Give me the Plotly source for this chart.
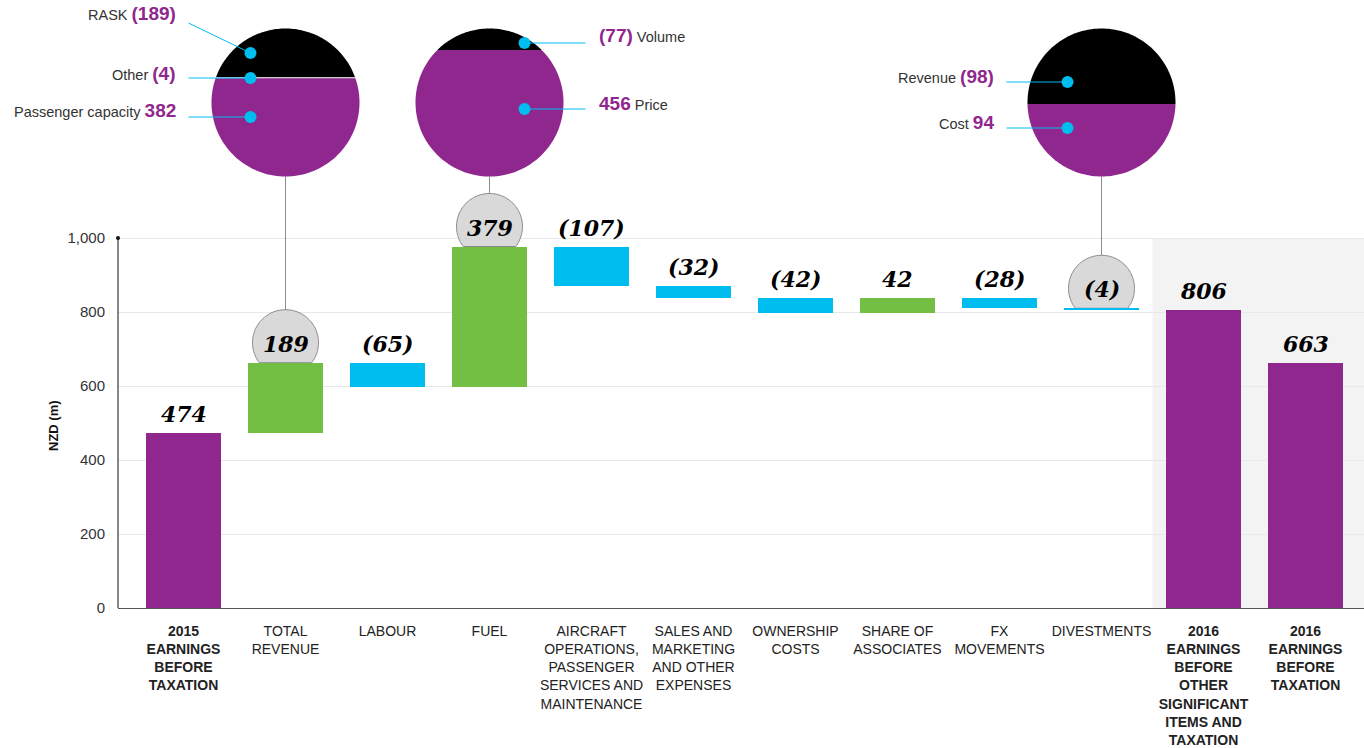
import math
import plotly.graph_objects as go

# ---------------- data ----------------
category_lines = [
    ["2015", "EARNINGS", "BEFORE", "TAXATION"],
    ["TOTAL", "REVENUE"],
    ["LABOUR"],
    ["FUEL"],
    ["AIRCRAFT", "OPERATIONS,", "PASSENGER", "SERVICES AND", "MAINTENANCE"],
    ["SALES AND", "MARKETING", "AND OTHER", "EXPENSES"],
    ["OWNERSHIP", "COSTS"],
    ["SHARE OF", "ASSOCIATES"],
    ["FX", "MOVEMENTS"],
    ["DIVESTMENTS"],
    ["2016", "EARNINGS", "BEFORE", "OTHER", "SIGNIFICANT", "ITEMS AND", "TAXATION"],
    ["2016", "EARNINGS", "BEFORE", "TAXATION"],
]
amounts = [474, 189, -65, 379, -107, -32, -42, 42, -28, -4, 806, 663]
kinds = ["total", "delta", "delta", "delta", "delta", "delta",
         "delta", "delta", "delta", "delta", "total", "total"]

y_ticks = [0, 200, 400, 600, 800, 1000]

# breakdowns shown as split discs above three of the movements
revenue_parts = ["RASK", "Other", "Passenger capacity"]
revenue_values = [-189, -4, 382]
fuel_parts = ["Volume", "Price"]
fuel_values = [-77, 456]
divest_parts = ["Revenue", "Cost"]
divest_values = [-98, 94]

# ---------------- styling / layout ----------------
W, H = 1364, 748
AX_LEFT_PX = 118
AX_BOTTOM_PX = 608
PX_PER_UNIT = 0.37
SLOT_PX = 102
FIRST_CENTER_PX = 183.5
BAR_WIDTH = 0.735

PURPLE = "#90278e"
GREEN = "#72bf44"
CYAN = "#00bdf0"
BLACK = "#000000"
GRID = "#e8e8e8"
SHADE = "#f3f3f3"
TEXT = "#333333"

SANS = "Liberation Sans"
SERIF = "DejaVu Serif"

PIE_R = 74
PIE_CY_PX = 102.5
BADGE_R = 33
BADGE_RISE = 20

y_max = AX_BOTTOM_PX / PX_PER_UNIT
x_lo = (AX_LEFT_PX - FIRST_CENTER_PX) / SLOT_PX
x_hi = (W - FIRST_CENTER_PX) / SLOT_PX


def units(px):
    return px / PX_PER_UNIT


def fmt(v):
    return f"({abs(v)})" if v < 0 else f"{v}"


def tick_label(lines, bold):
    if bold:
        return "<br>".join(f"<b>{s}</b>" for s in lines)
    return "<br>".join(lines)


def band_path(r, y_hi, y_lo, cy=0.0, n=48):
    """Closed polygon of the part of a circle (centre (0, cy)) lying between
    two horizontal lines, in pixel offsets with y pointing up."""
    a_lo = math.asin(max(-1.0, min(1.0, (y_lo - cy) / r)))
    a_hi = math.asin(max(-1.0, min(1.0, (y_hi - cy) / r)))
    pts = []
    for k in range(n + 1):
        a = a_lo + (a_hi - a_lo) * k / n
        pts.append((r * math.cos(a), cy + r * math.sin(a)))
    for k in range(n + 1):
        a = (math.pi - a_hi) + ((math.pi - a_lo) - (math.pi - a_hi)) * k / n
        pts.append((r * math.cos(a), cy + r * math.sin(a)))
    return "M " + " L ".join(f"{x:.2f},{y:.2f}" for x, y in pts) + " Z"


# ---------------- waterfall geometry ----------------
xs = list(range(len(amounts)))
bases, heights, tops, colors = [], [], [], []
running = 0
for v, k in zip(amounts, kinds):
    if k == "total":
        lo, hi = 0, v
        running = v
        col = PURPLE
    else:
        start = running
        running += v
        lo, hi = min(start, running), max(start, running)
        col = GREEN if v > 0 else CYAN
    bases.append(lo)
    heights.append(hi - lo)
    tops.append(hi)
    colors.append(col)

fig = go.Figure()
fig.add_trace(go.Bar(
    x=xs, y=heights, base=bases, width=BAR_WIDTH,
    marker=dict(color=colors, line=dict(width=0)),
    hoverinfo="skip",
))

shapes = []
annotations = []

# shaded panel behind the 2016 results
first_result = next(i for i in range(1, len(kinds)) if kinds[i] == "total")
shapes.append(dict(type="rect", xref="x", yref="y", x0=first_result - 0.5, x1=x_hi,
                   y0=0, y1=y_ticks[-1], fillcolor=SHADE, line=dict(width=0), layer="below"))

# vertical value axis line with end dot
ax_x = AX_LEFT_PX / W
shapes.append(dict(type="line", xref="paper", yref="y", x0=ax_x, x1=ax_x,
                   y0=0, y1=y_ticks[-1], line=dict(color="#111111", width=1)))
shapes.append(dict(type="circle", xref="paper", yref="y", xsizemode="pixel", ysizemode="pixel",
                   xanchor=ax_x, yanchor=y_ticks[-1], x0=-2, x1=2, y0=-2, y1=2,
                   fillcolor="#111111", line=dict(width=0)))

# value labels above each bar
for i, v in enumerate(amounts):
    annotations.append(dict(
        x=i, y=tops[i], xref="x", yref="y", text=fmt(v), showarrow=False,
        yanchor="bottom", xanchor="center", yshift=4,
        font=dict(family=SERIF, size=22, color="#000000", weight=700, style="italic"),
    ))

# split discs
pies = [
    dict(cat=1, parts=revenue_parts, values=revenue_values,
         colors=[BLACK, "#d4d4d4", PURPLE], side="left",
         dots=[(-35, 49.5), (-35, 24.5), (-35, -14.5)],
         lead=[(-97, 79.5), (-97, 24.5), (-97, -14.5)],
         label_dy=[89.5, 29.5, -7.5]),
    dict(cat=3, parts=fuel_parts, values=fuel_values,
         colors=[BLACK, PURPLE], side="right",
         dots=[(35, 59.5), (35, -6.5)],
         lead=[(96, 59.5), (96, -6.5)],
         label_dy=[67, -0.5]),
    dict(cat=9, parts=divest_parts, values=divest_values,
         colors=[BLACK, PURPLE], side="left",
         dots=[(-34, 20.5), (-34, -25.5)],
         lead=[(-95, 20.5), (-95, -25.5)],
         label_dy=[26, -20]),
]

pie_y = units(AX_BOTTOM_PX - PIE_CY_PX)

for p in pies:
    c = p["cat"]
    # connector from disc down to the badge on the bar
    badge_top = tops[c] + units(BADGE_RISE + BADGE_R)
    shapes.append(dict(type="line", xref="x", yref="y", x0=c, x1=c,
                       y0=badge_top, y1=pie_y - units(PIE_R),
                       line=dict(color="#8c8c8c", width=1), layer="between"))
    # grey badge sitting on the bar top
    shapes.append(dict(type="path", xref="x", yref="y", xsizemode="pixel", ysizemode="pixel",
                       xanchor=c, yanchor=tops[c],
                       path=band_path(BADGE_R, BADGE_RISE + BADGE_R, 0, cy=BADGE_RISE),
                       fillcolor="#d9d9d9", line=dict(color="#8a8a8a", width=1), layer="between"))
    # disc split horizontally in proportion to each component
    total = sum(abs(v) for v in p["values"])
    y_cur = PIE_R
    for v, col in zip(p["values"], p["colors"]):
        h = 2 * PIE_R * abs(v) / total
        shapes.append(dict(type="path", xref="x", yref="y", xsizemode="pixel", ysizemode="pixel",
                           xanchor=c, yanchor=pie_y,
                           path=band_path(PIE_R, y_cur, y_cur - h),
                           fillcolor=col, line=dict(width=0)))
        y_cur -= h
    # leaders, dots and labels
    for name, v, (dx, dy), (lx, ly), tdy in zip(p["parts"], p["values"], p["dots"],
                                                p["lead"], p["label_dy"]):
        shapes.append(dict(type="line", xref="x", yref="y", xsizemode="pixel", ysizemode="pixel",
                           xanchor=c, yanchor=pie_y, x0=lx, y0=ly, x1=dx, y1=dy,
                           line=dict(color=CYAN, width=1)))
        shapes.append(dict(type="circle", xref="x", yref="y", xsizemode="pixel", ysizemode="pixel",
                           xanchor=c, yanchor=pie_y, x0=dx - 6, x1=dx + 6, y0=dy - 6, y1=dy + 6,
                           fillcolor=CYAN, line=dict(width=0)))
        num = f"<b><span style='color:{PURPLE};font-size:19px'>{fmt(v)}</span></b>"
        if p["side"] == "left":
            text, xanchor, xshift = f"{name} {num}", "right", lx - 11
        else:
            text, xanchor, xshift = f"{num} {name}", "left", lx + 11
        annotations.append(dict(
            x=c, y=pie_y, xref="x", yref="y", text=text, showarrow=False,
            xanchor=xanchor, yanchor="middle", xshift=xshift, yshift=tdy,
            font=dict(family=SANS, size=14.5, color=TEXT),
        ))

# value axis title
annotations.append(dict(
    x=54 / W, y=1 - 426 / H, xref="paper", yref="paper", text="<b>NZD (m)</b>",
    xanchor="center", yanchor="middle",
    textangle=-90, showarrow=False, font=dict(family=SANS, size=13, color="#111111"),
))

ticktext = [tick_label(lines, k == "total") for lines, k in zip(category_lines, kinds)]

fig.update_layout(
    width=W, height=H,
    margin=dict(l=0, r=0, t=0, b=0, autoexpand=False),
    paper_bgcolor="white", plot_bgcolor="white",
    showlegend=False, hovermode=False,
    shapes=shapes, annotations=annotations,
    xaxis=dict(
        domain=[AX_LEFT_PX / W, 1], range=[x_lo, x_hi], automargin=False,
        tickvals=xs, ticktext=ticktext, ticks="", ticklabelstandoff=10,
        tickfont=dict(family=SANS, size=14, color="#222222"),
        showgrid=False, zeroline=False,
        showline=True, linecolor="#555555", linewidth=1,
    ),
    yaxis=dict(
        domain=[1 - AX_BOTTOM_PX / H, 1], range=[0, y_max], automargin=False,
        tickvals=y_ticks, tickformat=",", ticks="", ticklabelstandoff=12,
        tickfont=dict(family=SANS, size=15, color=TEXT),
        showgrid=True, gridcolor=GRID, gridwidth=1,
        zeroline=False, showline=False,
    ),
    bargap=0,
)

fig.write_html("out.html", config={"displayModeBar": False})
